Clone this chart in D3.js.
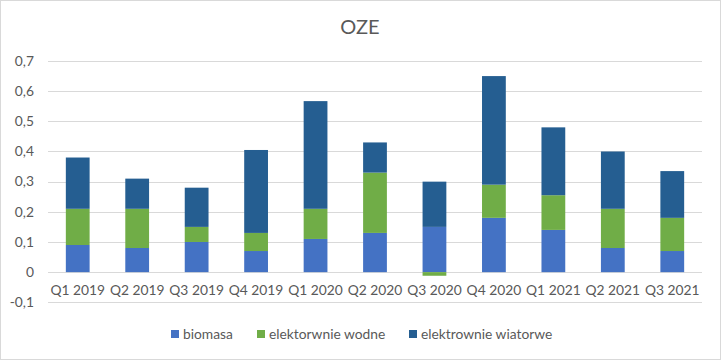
<!DOCTYPE html>
<html><head><meta charset="utf-8">
<script src="https://cdn.jsdelivr.net/npm/d3@7"></script>
<style>body{margin:0;background:#fff}svg{display:block}text{font-family:Lato,"Open Sans",sans-serif;fill:#595959}</style>
</head><body><svg id="c" width="721" height="360"></svg>
<script>
const categories=["Q1 2019","Q2 2019","Q3 2019","Q4 2019","Q1 2020","Q2 2020","Q3 2020","Q4 2020","Q1 2021","Q2 2021","Q3 2021"];
const biomasa=[0.09,0.08,0.10,0.07,0.11,0.13,0.15,0.18,0.14,0.08,0.07];
const wodne=[0.12,0.13,0.05,0.06,0.10,0.20,-0.012,0.11,0.115,0.13,0.11];
const wiatrowe=[0.17,0.10,0.13,0.275,0.357,0.10,0.15,0.36,0.225,0.19,0.155];
const seriesNames=["biomasa","elektorwnie wodne","elektrownie wiatorwe"];
const colors=["#4472C4","#70AD47","#255E91"];
const yTicks=[-0.1,0,0.1,0.2,0.3,0.4,0.5,0.6,0.7];
const yTickLabels=["-0,1","0","0,1","0,2","0,3","0,4","0,5","0,6","0,7"];

const svg=d3.select("#c");
svg.append("rect").attr("x",0.5).attr("y",0.5).attr("width",720).attr("height",359).attr("fill","#fff").attr("stroke","#d9d9d9");
const x=d3.scaleBand().domain(categories).range([48,702]).paddingInner(0.6).paddingOuter(0.3);
const y=d3.scaleLinear().domain([-0.1,0.7]).range([302.3,61]);

const g=svg.append("g");
g.selectAll("line.grid").data(yTicks).join("line").attr("x1",48).attr("x2",702)
 .attr("y1",d=>Math.round(y(d))+0.5).attr("y2",d=>Math.round(y(d))+0.5).attr("stroke","#d9d9d9").attr("stroke-width",1);
g.selectAll("text.yl").data(yTicks).join("text").attr("x",34).attr("y",d=>y(d)).attr("dy","0.35em")
 .attr("text-anchor","end").attr("font-size",13.8).text((d,i)=>yTickLabels[i]);

const data=categories.map((c,i)=>({cat:c,s0:biomasa[i],s1:wodne[i],s2:wiatrowe[i]}));
const stack=d3.stack().keys(["s0","s1","s2"]).offset(d3.stackOffsetDiverging);
const layers=stack(data);
layers.forEach((L,k)=>{
  g.selectAll(null).data(L).join("rect").attr("x",d=>x(d.data.cat)).attr("width",x.bandwidth())
   .attr("y",d=>y(Math.max(d[0],d[1]))).attr("height",d=>Math.abs(y(d[0])-y(d[1]))).attr("fill",colors[k]);
});
g.selectAll("text.xl").data(categories).join("text").attr("x",d=>x(d)+x.bandwidth()/2).attr("y",290).attr("dy","0.35em")
 .attr("text-anchor","middle").attr("font-size",13.8).text(d=>d);

svg.append("text").attr("x",360).attr("y",27).attr("dy","0.35em").attr("text-anchor","middle").attr("font-size",20).text("OZE");

const lx=[171,257,409];
const leg=svg.selectAll("g.leg").data(seriesNames).join("g").attr("transform",(d,i)=>`translate(${lx[i]},334)`);
leg.append("rect").attr("x",0).attr("y",-4).attr("width",8).attr("height",8).attr("fill",(d,i)=>colors[i]);
leg.append("text").attr("x",12).attr("dy","0.35em").attr("font-size",13.8).text(d=>d);
</script></body></html>
